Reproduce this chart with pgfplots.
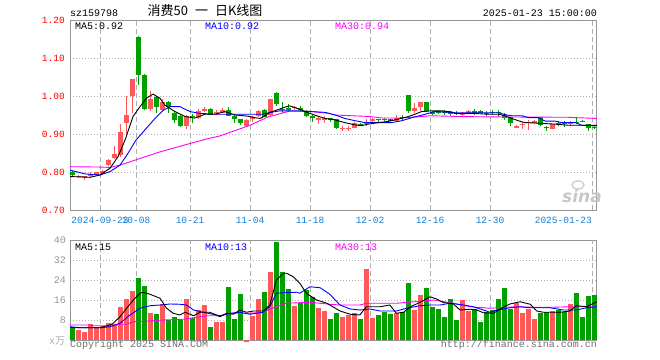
\documentclass[border=0pt]{standalone}
\usepackage{pgfplots}
\pgfplotsset{compat=1.18}
\usepackage{pgfplotstable}
\usepackage{fontspec}
\setmainfont{Liberation Mono}
\newfontfamily\cjk{Noto Sans CJK SC}
\newfontfamily\sinafont{DejaVu Sans}
\definecolor{cred}{RGB}{255,88,88}
\definecolor{cgreen}{RGB}{0,160,0}
\definecolor{framegray}{RGB}{150,150,150}
\definecolor{gridgray}{RGB}{175,175,175}
\definecolor{pricered}{RGB}{255,0,0}
\definecolor{dateblue}{RGB}{20,125,210}
\definecolor{volgray}{RGB}{150,150,150}
\definecolor{copygray}{RGB}{110,110,110}
\definecolor{maga}{RGB}{255,0,255}

\pgfplotstableread{
i o h l c v
-4 0.787 0.792 0.784 0.790 4.0
-3 0.784 0.790 0.779 0.789 3.3
-2 0.790 0.800 0.786 0.796 6.4
-1 0.792 0.800 0.789 0.799 5.3
0 0.795 0.806 0.793 0.802 5.6
1 0.818 0.835 0.815 0.832 6.9
2 0.837 0.868 0.833 0.847 6.3
3 0.845 0.926 0.840 0.906 13.3
4 0.929 1.000 0.900 0.950 16.4
5 1.000 1.045 0.955 1.045 19.6
8 0.965 1.012 0.960 0.993 10.9
10 0.962 0.992 0.958 0.985 14.4
14 0.921 0.951 0.912 0.947 16.4
16 0.943 0.965 0.940 0.961 12.0
17 0.961 0.970 0.958 0.967 14.0
19 0.955 0.964 0.950 0.959 7.3
20 0.955 0.968 0.954 0.963 7.3
24 0.922 0.939 0.920 0.937 -0.8
25 0.940 0.947 0.932 0.944 9.7
26 0.948 0.962 0.946 0.960 16.4
28 0.950 0.992 0.948 0.991 27.3
32 0.968 0.974 0.962 0.971 13.7
36 0.938 0.947 0.926 0.941 12.9
37 0.938 0.947 0.930 0.941 11.6
40 0.912 0.922 0.907 0.915 9.3
41 0.914 0.922 0.907 0.917 10.0
42 0.917 0.931 0.915 0.929 10.7
44 0.926 0.939 0.920 0.930 28.4
45 0.934 0.943 0.930 0.939 8.9
49 0.935 0.950 0.932 0.943 10.7
52 0.961 0.981 0.954 0.969 12.0
53 0.971 0.984 0.961 0.983 18.0
60 0.950 0.958 0.947 0.953 16.0
61 0.954 0.963 0.952 0.961 11.6
69 0.917 0.923 0.915 0.922 14.7
70 0.924 0.932 0.914 0.927 10.9
71 0.928 0.937 0.911 0.931 12.4
72 0.928 0.936 0.926 0.935 8.4
75 0.913 0.927 0.912 0.926 11.6
78 0.926 0.933 0.920 0.929 14.4
}\redtab

\pgfplotstableread{
i o h l c v
-5 0.800 0.802 0.788 0.791 5.3
6 1.155 1.158 1.030 1.055 24.9
7 1.055 1.057 0.962 0.965 21.6
9 0.997 0.999 0.955 0.970 10.4
11 0.985 0.987 0.954 0.972 8.0
12 0.955 0.958 0.928 0.936 9.3
13 0.947 0.949 0.918 0.920 8.0
15 0.947 0.953 0.928 0.944 8.9
18 0.967 0.968 0.949 0.950 5.3
21 0.963 0.970 0.947 0.948 21.3
22 0.948 0.949 0.930 0.939 8.4
23 0.939 0.940 0.925 0.929 18.4
27 0.963 0.965 0.944 0.946 19.3
29 1.007 1.011 0.975 0.978 39.3
30 0.967 0.985 0.955 0.963 27.1
31 0.968 0.979 0.957 0.964 20.4
33 0.968 0.975 0.957 0.964 14.7
34 0.961 0.963 0.945 0.948 20.0
35 0.948 0.949 0.932 0.941 17.3
38 0.941 0.943 0.932 0.938 8.4
39 0.939 0.940 0.913 0.917 10.9
43 0.927 0.929 0.921 0.922 8.4
46 0.939 0.940 0.932 0.936 10.0
47 0.939 0.941 0.935 0.936 11.3
48 0.939 0.940 0.934 0.935 10.4
50 0.945 0.950 0.938 0.942 11.1
51 1.002 1.003 0.955 0.961 22.8
54 0.983 0.984 0.957 0.961 20.9
55 0.958 0.960 0.950 0.952 13.3
56 0.961 0.963 0.953 0.954 12.4
57 0.960 0.964 0.950 0.956 9.3
58 0.955 0.961 0.948 0.952 16.4
59 0.955 0.960 0.950 0.952 8.0
62 0.961 0.967 0.950 0.954 12.3
63 0.961 0.962 0.955 0.956 7.3
64 0.955 0.961 0.947 0.952 11.1
65 0.957 0.962 0.950 0.954 12.0
66 0.957 0.962 0.945 0.954 16.4
67 0.950 0.955 0.937 0.943 20.9
68 0.945 0.946 0.922 0.930 12.4
73 0.945 0.946 0.921 0.923 10.9
74 0.919 0.920 0.909 0.915 11.1
76 0.929 0.933 0.920 0.926 12.0
77 0.930 0.935 0.918 0.926 11.1
79 0.932 0.944 0.926 0.929 18.8
80 0.935 0.937 0.931 0.932 9.3
81 0.926 0.927 0.908 0.915 17.7
82 0.918 0.922 0.913 0.915 18.0
}\greentab

\pgfplotsset{
  kbase/.style={
    scale only axis, width=527bp, xmin=-5, xmax=82.83,
    axis line style={draw=framegray, line width=1bp},
    major tick length=0pt,
    xmajorgrids, ymajorgrids,
    major x grid style={draw=gridgray, line width=0.8bp, dash pattern=on 5bp off 3bp},
    major y grid style={draw=gridgray, line width=0.8bp, dash pattern=on 1bp off 2bp},
    xtick={0,6,15,25,35,45,55,65},
    tick label style={font=\fontsize{9.5bp}{11bp}\selectfont, inner sep=0pt},
    extra x ticks={82},
  },
  wick/.style={draw=none, no markers, forget plot,
    error bars/.cd, y dir=plus, y explicit, error mark=none,
    error bar style={draw=#1, line width=1bp}},
  body/.style={draw=none, no markers, forget plot,
    error bars/.cd, y dir=plus, y explicit, error mark=none,
    error bar style={draw=#1, line width=5bp}},
}

\begin{document}
\begin{tikzpicture}
\useasboundingbox (-70bp,20bp) rectangle (590bp,-340bp);

% ---------------- price panel ----------------
\begin{axis}[kbase, at={(0,0)}, anchor=north west, height=190bp,
  ymin=0.70, ymax=1.20,
  ytick={0.7,0.8,0.9,1.0,1.1,1.2},
  yticklabels={0.70,0.80,0.90,1.00,1.10,1.20},
  yticklabel style={text=pricered, anchor=east, xshift=-5bp},
  xticklabels={2024-09-23,10-08,10-21,11-04,11-18,12-02,12-16,12-30},
  xticklabel style={text=dateblue, anchor=north, yshift=-6.5bp},
  extra x tick labels={2025-01-23},
  extra x tick style={xticklabel style={anchor=north east}},
]
\addplot[wick=cred] table[x expr=\thisrow{i}+0.4167, y=l, y error plus expr=\thisrow{h}-\thisrow{l}]{\redtab};
\addplot[wick=cgreen] table[x expr=\thisrow{i}+0.4167, y=l, y error plus expr=\thisrow{h}-\thisrow{l}]{\greentab};
\addplot[body=cred] table[x expr=\thisrow{i}+0.4167, y=o, y error plus expr=\thisrow{c}-\thisrow{o}]{\redtab};
\addplot[body=cgreen] table[x expr=\thisrow{i}+0.4167, y=c, y error plus expr=\thisrow{o}-\thisrow{c}]{\greentab};

% MA30
\addplot[maga, line width=0.9bp, mark=none] coordinates {
(-5,0.814) (0,0.813) (1.67,0.812) (3.33,0.818) (6,0.832) (10,0.853) (15,0.875) (17.8,0.887) (20,0.895) (25,0.923) (28,0.945) (29.7,0.952) (31.5,0.960) (35,0.960) (36.5,0.957) (38.3,0.954) (39,0.950) (45,0.946) (47,0.942) (50,0.942) (53.6,0.946) (55,0.948) (60,0.946) (65,0.945) (78,0.944) (81,0.942) (82.8,0.941)};
% MA10
\addplot[blue, line width=0.9bp, mark=none] coordinates {
(-5,0.805) (-2.5,0.795) (0,0.792) (1.67,0.801) (3.33,0.818) (4.5,0.845) (6,0.884) (7.5,0.911) (9.17,0.941) (10.5,0.962) (11.67,0.972) (13.3,0.972) (15,0.959) (16.7,0.954) (20,0.952) (25,0.952) (27,0.952) (28.5,0.957) (30,0.961) (33,0.961) (35,0.959) (37.5,0.957) (39.2,0.950) (40.8,0.941) (42.5,0.935) (44.2,0.930) (48.6,0.930) (50.3,0.935) (52,0.943) (54.2,0.952) (55.8,0.959) (59.2,0.956) (66.4,0.956) (67.5,0.951) (68.6,0.948) (70.3,0.948) (71.4,0.943) (73,0.943) (74.2,0.934) (75.8,0.934) (77,0.930) (79.2,0.930) (80.3,0.923) (82.8,0.922)};
% MA5
\addplot[black, line width=0.9bp, mark=none] coordinates {
(-5,0.788) (-3,0.787) (-1.67,0.786) (0,0.792) (1.67,0.810) (3,0.840) (4.17,0.884) (5.5,0.946) (6.67,0.972) (7.8,0.995) (8.83,1.005) (10,0.994) (10.8,0.976) (12.5,0.959) (14.2,0.946) (15.8,0.942) (17.5,0.952) (19.2,0.952) (20.8,0.959) (22.5,0.950) (24,0.948) (25,0.946) (25.8,0.943) (26.7,0.941) (27.3,0.946) (28.3,0.957) (29.5,0.963) (30.7,0.970) (31.6,0.974) (32.4,0.970) (33.3,0.965) (34.5,0.957) (36.1,0.948) (37.5,0.941) (39.2,0.937) (40.8,0.930) (42.5,0.924) (43.6,0.922) (44.7,0.926) (46.4,0.930) (48,0.933) (49.7,0.939) (51.4,0.946) (52.5,0.952) (53.6,0.959) (55.3,0.961) (57,0.961) (58.6,0.958) (59.2,0.954) (62.5,0.954) (64.7,0.952) (66.4,0.952) (67.5,0.948) (68.6,0.941) (69.7,0.935) (70.8,0.930) (72.5,0.929) (73.6,0.928) (75.8,0.926) (78.1,0.923) (82.8,0.923)};
\end{axis}

% ---------------- volume panel ----------------
\begin{axis}[kbase, at={(0,-220bp)}, anchor=north west, height=100bp,
  ymin=0, ymax=40, clip=false,
  ytick={8,16,24,32,40},
  yticklabels={8,16,24,32,40},
  yticklabel style={text=volgray, anchor=east, xshift=-4bp, font=\fontsize{10bp}{12bp}\selectfont},
  xticklabels={}, extra x tick labels={},
]
\addplot[ycomb, draw=cred, line width=5bp, mark=none, forget plot] table[x expr=\thisrow{i}+0.4167, y=v]{\redtab};
\addplot[ycomb, draw=cgreen, line width=5bp, mark=none, forget plot] table[x expr=\thisrow{i}+0.4167, y=v]{\greentab};
% MA30 vol
\addplot[maga, line width=0.9bp, mark=none] coordinates {
(-5,6.0) (-1.67,6.0) (-1.1,5.7) (2.2,5.7) (3.3,6.3) (4.4,6.3) (5.6,7.3) (8.3,7.6) (10.6,8.0) (13.9,8.3) (15.6,8.9) (17.8,9.7) (20,9.7) (22.2,10.7) (25,10.7) (27.2,11.1) (28.9,12.9) (31.1,14.7) (35,15.1) (38.3,14.3) (40,14.0) (43.3,14.0) (44.4,14.7) (49.4,14.7) (53.9,15.6) (55.6,16.0) (58.9,14.7) (61.7,13.3) (65,12.7) (69.4,13.3) (73.9,13.0) (78.3,13.3) (82.8,13.3)};
% MA10 vol
\addplot[blue, line width=0.9bp, mark=none] coordinates {
(-5,5.3) (-3.3,4.9) (0,4.9) (1.67,5.3) (3.33,6.7) (5,10.0) (6.67,12.7) (8.33,13.7) (10,14.0) (11.7,14.4) (13.3,14.3) (14.4,14.0) (15.6,12.0) (17.2,11.1) (20,9.7) (21.7,10.7) (23.3,11.1) (25,10.3) (27.2,11.1) (28.3,13.3) (29.4,18.7) (30.6,18.9) (32.8,19.1) (33.3,18.7) (35,21.3) (36.7,20.9) (38.3,18.3) (40,14.0) (41.7,12.4) (43.3,12.0) (45,12.4) (46.7,11.6) (49.4,11.6) (51.1,12.7) (53.3,13.7) (55,14.0) (56.7,14.0) (58.3,14.7) (60.6,14.0) (62.2,13.3) (63.9,12.0) (65,11.1) (66.1,11.9) (68.3,12.9) (70,13.3) (71.7,12.9) (73.9,12.9) (75,12.9) (77.2,12.0) (79.4,12.0) (81.1,12.9) (82.8,13.3)};
% MA5 vol
\addplot[black, line width=0.9bp, mark=none] coordinates {
(-5,4.9) (0,4.9) (1.67,6.0) (2.2,6.7) (3.33,9.3) (4.44,12.7) (5.56,16.0) (6.67,18.7) (7.2,19.1) (8.33,18.3) (10,16.7) (11.1,12.7) (12.2,10.7) (13.3,10.0) (14.2,11.1) (15.6,9.7) (16.7,11.1) (18.3,11.1) (20,9.3) (21.1,10.7) (22.2,10.3) (23.3,12.0) (24.4,11.1) (25.6,11.6) (27.2,11.6) (28.3,14.0) (29.4,24.0) (30.6,26.7) (31.1,26.7) (32.2,25.3) (33.3,22.7) (34.4,18.7) (36.1,16.0) (37.8,14.7) (38.3,14.0) (40,11.6) (41.7,10.3) (43.3,10.0) (44.4,13.3) (46.7,13.3) (48.3,14.0) (49.4,10.7) (50.6,11.1) (51.7,13.3) (53.3,15.0) (55,17.3) (56.1,16.4) (57.2,15.0) (58.9,14.4) (60,12.0) (61.7,12.3) (62.8,12.0) (63.9,10.9) (65.6,10.7) (66.7,12.4) (68.3,14.4) (70,15.3) (71.7,14.3) (72.8,11.6) (73.9,11.1) (76.7,11.1) (78.3,11.6) (79.4,13.7) (81.1,13.3) (82.8,15.3)};
\end{axis}

% ---------------- texts ----------------
\begin{scope}[every node/.style={inner sep=0pt, font=\fontsize{10bp}{12bp}\selectfont}]
\node[anchor=base west] at (0bp,3.3bp) {sz159798};
\node[anchor=center, font=\cjk\fontsize{13bp}{14bp}\selectfont] at (135bp,9bp) {消费50\hspace{7bp}一\hspace{7bp}日K线图};
\node[anchor=base east] at (527bp,3.3bp) {2025-01-23 15:00:00};
\node[anchor=base west] at (5bp,-9.3bp) {MA5:0.92};
\node[anchor=base west, text=blue] at (135bp,-9.3bp) {MA10:0.92};
\node[anchor=base west, text=maga] at (265bp,-9.3bp) {MA30:0.94};
\node[anchor=base west] at (5bp,-230bp) {MA5:15};
\node[anchor=base west, text=blue] at (135bp,-230bp) {MA10:13};
\node[anchor=base west, text=maga] at (265bp,-230bp) {MA30:13};
\node[anchor=base west, text=volgray!80] at (-21bp,-324bp) {x\cjk 万};
\node[anchor=base west, text=copygray] at (0bp,-327bp) {Copyright 2025 SINA.COM};
\node[anchor=base east, text=copygray] at (527bp,-327bp) {http://finance.sina.com.cn};
\node[anchor=center, text=black!22, font=\sinafont\bfseries\itshape\fontsize{17bp}{18bp}\selectfont] at (512bp,-176bp) {sina};
\draw[black!18, line width=1.5bp] (508bp,-165bp) ellipse (6bp and 4bp);
\end{scope}
\end{tikzpicture}
\end{document}
